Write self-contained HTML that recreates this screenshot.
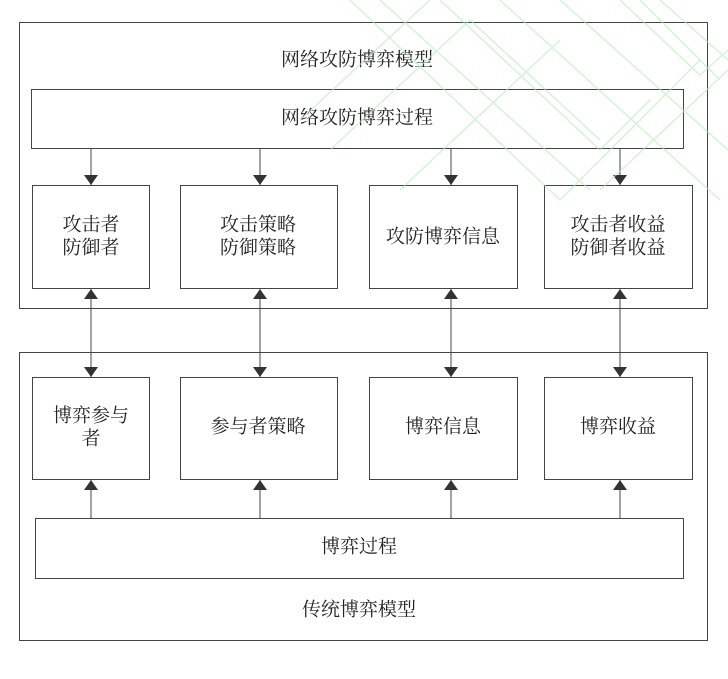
<!DOCTYPE html>
<html><head><meta charset="utf-8"><style>
html,body{margin:0;padding:0;background:#fff;}
svg{display:block;}
text{font-family:"Liberation Serif","Noto Serif CJK SC",serif;font-size:19px;fill:#222;text-anchor:middle;dominant-baseline:central;}
</style></head><body>
<svg width="728" height="679" viewBox="0 0 728 679" xmlns="http://www.w3.org/2000/svg">
<defs>
<marker id="a" viewBox="0 0 10 14" refX="10" refY="7" markerWidth="10" markerHeight="14" markerUnits="userSpaceOnUse" orient="auto">
<path d="M0,0 L10,7 L0,14 z" fill="#333"/></marker>
<marker id="b" viewBox="0 0 10 14" refX="0" refY="7" markerWidth="10" markerHeight="14" markerUnits="userSpaceOnUse" orient="auto">
<path d="M10,0 L0,7 L10,14 z" fill="#333"/></marker>
</defs>
<g fill="#fff" stroke="#444" stroke-width="1">
<rect x="19.5" y="22.5" width="688" height="286"/>
<rect x="19.5" y="352.5" width="688" height="288"/>
<rect x="31.5" y="89.5" width="652" height="59"/>
<rect x="32.5" y="185.5" width="117" height="103"/>
<rect x="180.5" y="185.5" width="157" height="103"/>
<rect x="369.5" y="185.5" width="148" height="103"/>
<rect x="544.5" y="185.5" width="148" height="103"/>
<rect x="32.5" y="377.5" width="117" height="102"/>
<rect x="180.5" y="377.5" width="157" height="102"/>
<rect x="369.5" y="377.5" width="148" height="102"/>
<rect x="544.5" y="377.5" width="148" height="102"/>
<rect x="35.5" y="518.5" width="648" height="60"/>
</g>
<g stroke="#444" stroke-width="1">
<line x1="91" y1="149" x2="91" y2="185" marker-end="url(#a)"/>
<line x1="260" y1="149" x2="260" y2="185" marker-end="url(#a)"/>
<line x1="451" y1="149" x2="451" y2="185" marker-end="url(#a)"/>
<line x1="620" y1="149" x2="620" y2="185" marker-end="url(#a)"/>
<line x1="91" y1="289" x2="91" y2="377" marker-start="url(#b)" marker-end="url(#a)"/>
<line x1="260" y1="289" x2="260" y2="377" marker-start="url(#b)" marker-end="url(#a)"/>
<line x1="451" y1="289" x2="451" y2="377" marker-start="url(#b)" marker-end="url(#a)"/>
<line x1="620" y1="289" x2="620" y2="377" marker-start="url(#b)" marker-end="url(#a)"/>
<line x1="91" y1="518" x2="91" y2="480" marker-end="url(#a)"/>
<line x1="260" y1="518" x2="260" y2="480" marker-end="url(#a)"/>
<line x1="451" y1="518" x2="451" y2="480" marker-end="url(#a)"/>
<line x1="620" y1="518" x2="620" y2="480" marker-end="url(#a)"/>
</g>
<text x="357" y="60">网络攻防博弈模型</text>
<text x="357" y="118">网络攻防博弈过程</text>
<text x="91" y="225">攻击者</text><text x="91" y="248">防御者</text>
<text x="258" y="225">攻击策略</text><text x="258" y="248">防御策略</text>
<text x="443" y="237">攻防博弈信息</text>
<text x="618" y="225">攻击者收益</text><text x="618" y="248">防御者收益</text>
<text x="91" y="416">博弈参与</text><text x="91" y="439">者</text>
<text x="258" y="427">参与者策略</text>
<text x="443" y="427">博弈信息</text>
<text x="618" y="427">博弈收益</text>
<text x="359" y="547">博弈过程</text>
<text x="359" y="610">传统博弈模型</text>
<g stroke="#b8ecb8" stroke-width="1.5" fill="none" opacity="0.6">
<path d="M350,0 L560,200 L700,60"/>
<path d="M380,0 L590,190"/>
<path d="M440,0 L600,150 L650,100"/>
<path d="M500,0 L720,200"/>
<path d="M560,0 L728,150"/>
<path d="M620,0 L700,75 L728,50"/>
<path d="M660,0 L728,60"/>
<path d="M300,120 L430,0"/>
<path d="M330,150 L470,20 L600,140"/>
<path d="M400,190 L560,40"/>
<path d="M600,190 L728,70"/>
<path d="M640,0 L720,80"/>
</g>
</svg>
</body></html>
